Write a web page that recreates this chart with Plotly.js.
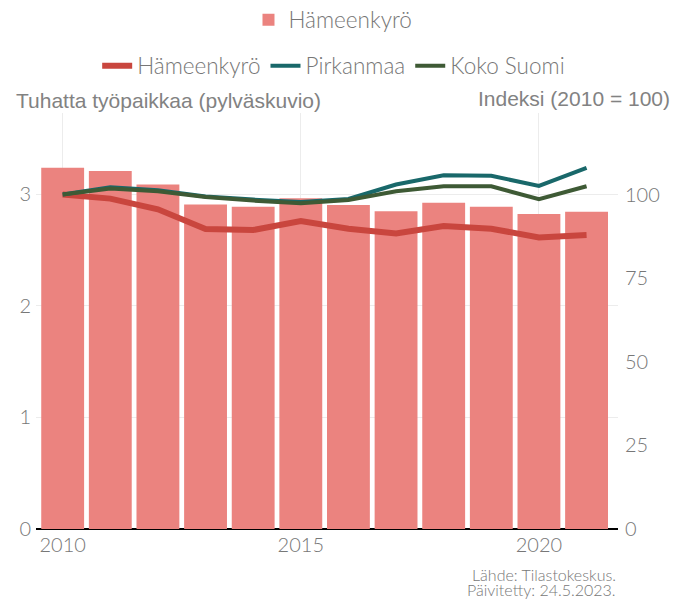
<!DOCTYPE html>
<html>
<head>
<meta charset="utf-8">
<script src="https://cdn.plot.ly/plotly-3.0.1.min.js"></script>
<style>html,body{margin:0;padding:0;background:#fff;}#chart{width:688px;height:599px;}</style>
</head>
<body>
<div id="chart"></div>
<script>
const years = [2010, 2011, 2012, 2013, 2014, 2015, 2016, 2017, 2018, 2019, 2020, 2021];
const jobsHameenkyro = [3.24, 3.21, 3.09, 2.91, 2.89, 2.965, 2.905, 2.85, 2.925, 2.89, 2.825, 2.845];
const indexHameenkyro = [100, 98.8, 95.6, 89.7, 89.4, 92.1, 89.8, 88.4, 90.6, 89.8, 87.2, 87.9];
const indexPirkanmaa = [100, 102.2, 101.3, 99.4, 98.5, 97.8, 98.7, 103.0, 105.8, 105.6, 102.6, 108.0];
const indexKokoSuomi = [100, 101.8, 101.0, 99.3, 98.2, 97.4, 98.4, 101.0, 102.5, 102.5, 98.6, 102.5];
const tickYearsX = [2010, 2015, 2020];

const gray = '#777777';
const light = {family: 'Lato, sans-serif', weight: 300, color: gray};
const narrow = {family: 'Liberation Sans Narrow, sans-serif', weight: 400, size: 21, color: '#828282'};
const traces = [
  {type: 'bar', x: years, y: jobsHameenkyro, name: 'Hämeenkyrö', marker: {color: '#eb837f'}, width: 0.9, yaxis: 'y', legend: 'legend', hoverinfo: 'skip'},
  {type: 'scatter', mode: 'lines', x: years, y: indexHameenkyro, name: 'Hämeenkyrö', line: {color: '#c9463e', width: 6}, yaxis: 'y2', legend: 'legend2', hoverinfo: 'skip'},
  {type: 'scatter', mode: 'lines', x: years, y: indexPirkanmaa, name: 'Pirkanmaa', line: {color: '#19686a', width: 4}, yaxis: 'y2', legend: 'legend2', hoverinfo: 'skip'},
  {type: 'scatter', mode: 'lines', x: years, y: indexKokoSuomi, name: 'Koko Suomi', line: {color: '#3e5a35', width: 4}, yaxis: 'y2', legend: 'legend2', hoverinfo: 'skip'}
];

const layout = {
  width: 688, height: 599,
  margin: {l: 36, r: 70, t: 113, b: 70, autoexpand: false},
  paper_bgcolor: '#fff', plot_bgcolor: '#fff',
  font: Object.assign({}, light),
  showlegend: true,
  hovermode: false,
  xaxis: {
    range: [2009.44, 2021.66], tickvals: tickYearsX, ticktext: tickYearsX.map(String),
    showgrid: true, gridcolor: '#ececec', gridwidth: 1, zeroline: false,
    showline: false, ticks: '', tickfont: Object.assign({size: 20}, light), ticklabelstandoff: 2, automargin: false
  },
  yaxis: {
    range: [0, 3.73], tickvals: [0, 1, 2, 3], showgrid: true, gridcolor: '#ececec',
    zeroline: true, zerolinecolor: '#000', zerolinewidth: 2, showline: false, ticks: '',
    tickfont: Object.assign({size: 20}, light), ticklabelstandoff: 4, automargin: false
  },
  yaxis2: {
    overlaying: 'y', side: 'right', range: [0, 124.4], tickvals: [0, 25, 50, 75, 100],
    showgrid: false, zeroline: false, showline: false, ticks: '',
    tickfont: Object.assign({size: 20}, light), ticklabelstandoff: 6, automargin: false
  },
  legend: {
    orientation: 'h', x: 0.484, xanchor: 'center', xref: 'container',
    y: 1 - 20 / 599, yanchor: 'middle', yref: 'container',
    font: Object.assign({size: 22.5}, light), bgcolor: 'rgba(0,0,0,0)'
  },
  legend2: {
    orientation: 'h', x: 0.485, xanchor: 'center', xref: 'container',
    y: 1 - 66 / 599, yanchor: 'middle', yref: 'container',
    font: Object.assign({size: 22.5}, light), bgcolor: 'rgba(0,0,0,0)', itemwidth: 30
  },
  annotations: [
    {xref: 'paper', yref: 'paper', x: -0.037, y: 1.031, xanchor: 'left', yanchor: 'middle', showarrow: false,
     text: 'Tuhatta työpaikkaa (pylväskuvio)', font: narrow},
    {xref: 'paper', yref: 'paper', x: 1.092, y: 1.036, xanchor: 'right', yanchor: 'middle', showarrow: false,
     text: 'Indeksi (2010 = 100)', font: narrow},
    {xref: 'paper', yref: 'paper', x: 1.0, y: (529 - 574) / 416, xanchor: 'right', yanchor: 'middle', showarrow: false,
     text: 'Lähde: Tilastokeskus.', font: Object.assign({size: 16}, light)},
    {xref: 'paper', yref: 'paper', x: 1.0, y: (529 - 589) / 416, xanchor: 'right', yanchor: 'middle', showarrow: false,
     text: 'Päivitetty: 24.5.2023.', font: Object.assign({size: 16}, light)}
  ]
};

Plotly.newPlot('chart', traces, layout, {displayModeBar: false, staticPlot: true});
</script>
</body>
</html>
